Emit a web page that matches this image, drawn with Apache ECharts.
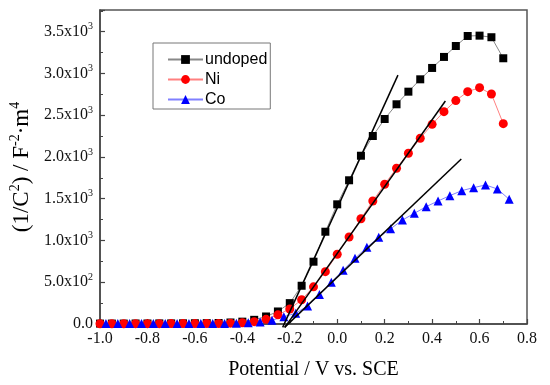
<!DOCTYPE html>
<html>
<head>
<meta charset="utf-8">
<script src="https://cdn.jsdelivr.net/npm/echarts@6/dist/echarts.min.js"></script>
<style>html,body{margin:0;padding:0;background:#fff}#c{width:550px;height:385px}</style>
</head>
<body>
<div id="c"></div>
<script>
// Potentials (V vs. SCE)
var xMain = [-1.0,-0.95,-0.9,-0.85,-0.8,-0.75,-0.7,-0.65,-0.6,-0.55,-0.5,-0.45,-0.4,-0.35,-0.3,-0.25,-0.2,-0.15,-0.1,-0.05,0.0,0.05,0.1,0.15,0.2,0.25,0.3,0.35,0.4,0.45,0.5,0.55,0.6,0.65,0.7];
var xCo = [-0.975,-0.925,-0.875,-0.825,-0.775,-0.725,-0.675,-0.625,-0.575,-0.525,-0.475,-0.425,-0.375,-0.325,-0.275,-0.225,-0.175,-0.125,-0.075,-0.025,0.025,0.075,0.125,0.175,0.225,0.275,0.325,0.375,0.425,0.475,0.525,0.575,0.625,0.675,0.725];
// 1/C^2 values
var undoped = [5,5,5,6,6,7,7,8,9,10,12,18,28,50,90,150,250,458,746,1105,1433,1721,2015,2251,2455,2631,2782,2930,3066,3198,3329,3449,3453,3434,3182];
var ni = [3,3,3,4,4,4,5,5,5,6,6,10,15,28,56,110,180,290,445,627,835,1042,1261,1473,1673,1865,2044,2224,2391,2543,2675,2782,2830,2754,2399];
var co = [5,5,5,5,5,5,5,5,5,5,6,8,15,25,45,88,128,217,353,500,645,786,918,1038,1140,1245,1325,1405,1473,1537,1597,1633,1665,1617,1493];
// linear fit segments [x, y]
var fitUndopedX = [-0.23, 0.256], fitUndopedY = [-40, 2980];
var fitNiX = [-0.221, 0.456], fitNiY = [-40, 2670];
var fitCoX = [-0.222, 0.523], fitCoY = [-40, 1976];
var seriesNames = ['undoped', 'Ni', 'Co'];

function pairs(xs, ys){ return xs.map(function(x,i){ return [x, ys[i]]; }); }

var serif = 'Liberation Serif';
var chart = echarts.init(document.getElementById('c'));
function fitSeries(xs, ys){
  return {type:'line', data: pairs(xs, ys), showSymbol:false, symbol:'none', clip:false,
    lineStyle:{color:'#000', width:1.5}, silent:true, z:5, legendHoverLink:false};
}
chart.setOption({
  animation:false,
  backgroundColor:'#fff',
  grid:{left:100, right:23, top:10, bottom:61, show:true, borderColor:'#555', borderWidth:1.5},
  legend:{
    data: seriesNames, orient:'vertical', left:153, top:43, padding:[7,3,0,14],
    itemWidth:35, itemHeight:11, itemGap:1,
    borderColor:'#777', borderWidth:1,
    textStyle:{fontFamily:'Liberation Sans', fontSize:16, lineHeight:19, color:'#000', padding:[0,0,0,-3]}
  },
  xAxis:{
    type:'value', min:-1.0, max:0.8, interval:0.2,
    name:'Potential / V vs. SCE', nameLocation:'middle', nameGap:36,
    nameTextStyle:{fontFamily:serif, fontSize:20, color:'#000'},
    axisLine:{onZero:false, lineStyle:{color:'#444', width:1.5}},
    axisTick:{inside:true, length:5, lineStyle:{color:'#444', width:1.2}},
    minorTick:{show:true, splitNumber:2, length:3, lineStyle:{color:'#444', width:1}},
    splitLine:{show:false},
    axisLabel:{fontFamily:serif, fontSize:16, color:'#111', margin:7,
      formatter:function(v){ return (Math.round(v*10)/10).toFixed(1); }}
  },
  yAxis:{
    type:'value', min:0, max:3760, interval:500,
    name:'(1/C{s|2}) / F{s|-2}·m{s|4}', nameLocation:'middle', nameGap:57,
    nameTextStyle:{fontFamily:serif, fontSize:23, color:'#000',
      rich:{s:{fontFamily:serif, fontSize:14, color:'#000', padding:[0,0,12,0]}}},
    axisLine:{show:true, onZero:false, lineStyle:{color:'#444', width:1.5}},
    axisTick:{inside:true, length:5, lineStyle:{color:'#444', width:1.2}},
    minorTick:{show:true, splitNumber:2, length:3, lineStyle:{color:'#444', width:1}},
    splitLine:{show:false},
    axisLabel:{fontFamily:serif, fontSize:16, color:'#111', margin:7, showMaxLabel:false,
      formatter:function(v){
        if (v % 500 !== 0) return '';
        if (v === 0) return '0.0';
        var e = v >= 1000 ? 3 : 2;
        var m = (v / Math.pow(10, e)).toFixed(1);
        return m + 'x10{s|' + e + '}';
      },
      rich:{s:{fontFamily:serif, fontSize:10, color:'#111', padding:[0,0,10,0]}}
    }
  },
  series:[
    {name:'undoped', type:'line', data:pairs(xMain, undoped), symbol:'rect', symbolSize:8,
      itemStyle:{color:'#000'}, lineStyle:{color:'#888', width:1}, z:3},
    {name:'Ni', type:'line', data:pairs(xMain, ni), symbol:'circle', symbolSize:9,
      itemStyle:{color:'#ff0000'}, lineStyle:{color:'#ff8080', width:1}, z:3},
    {name:'Co', type:'line', data:pairs(xCo, co), symbol:'triangle', symbolSize:9,
      itemStyle:{color:'#0000ff'}, lineStyle:{color:'#8080ff', width:1}, z:3},
    fitSeries(fitUndopedX, fitUndopedY),
    fitSeries(fitNiX, fitNiY),
    fitSeries(fitCoX, fitCoY)
  ]
});
</script>
</body>
</html>
